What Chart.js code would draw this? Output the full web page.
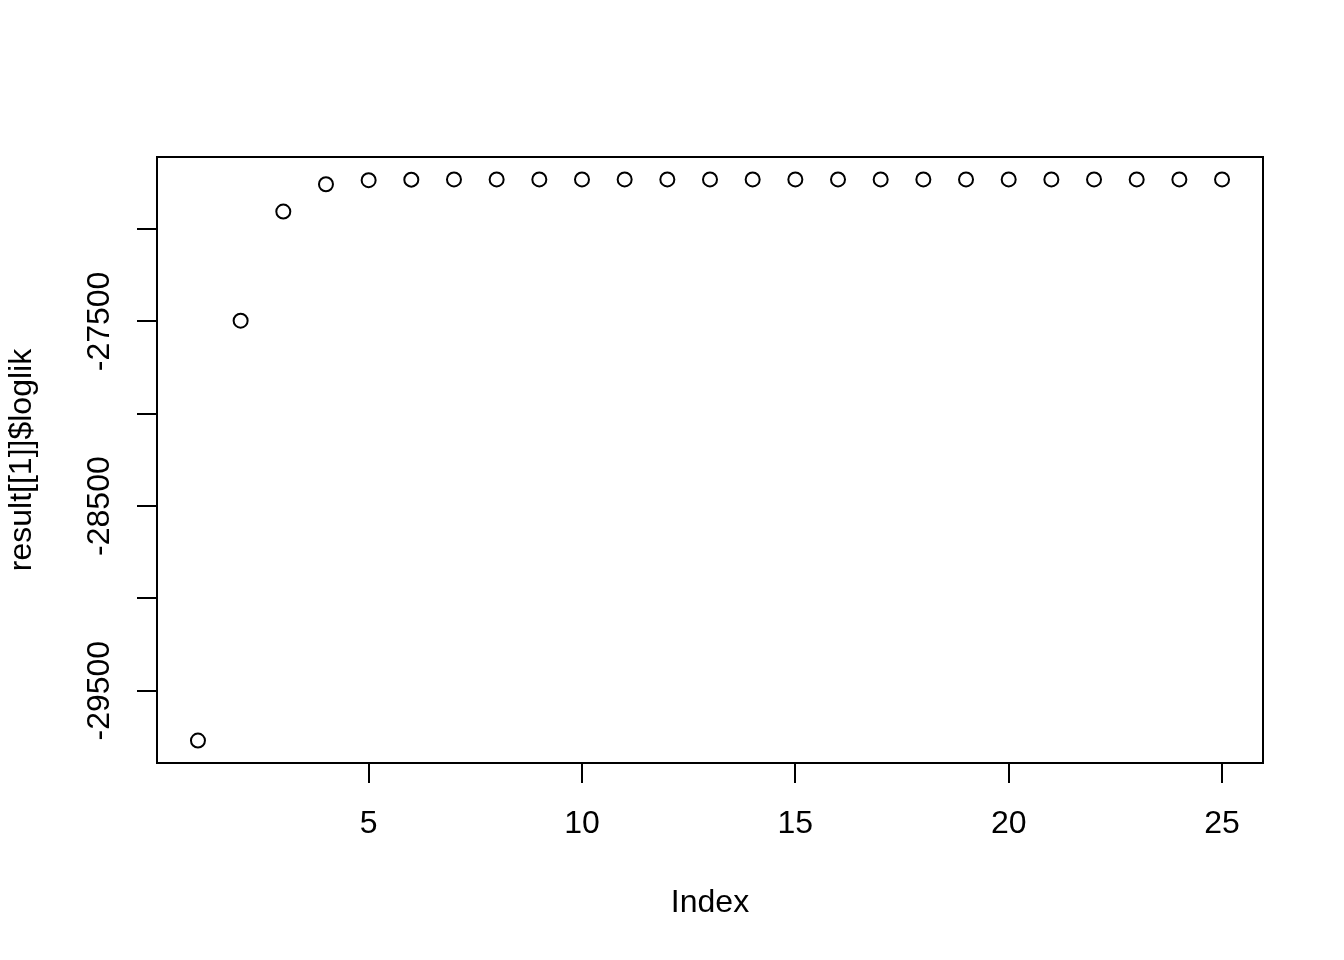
<!DOCTYPE html>
<html>
<head>
<meta charset="utf-8">
<script src="https://cdn.jsdelivr.net/npm/chart.js@4/dist/chart.umd.min.js"></script>
<style>
  html, body { margin: 0; padding: 0; background: #fff; }
  #wrap { width: 1344px; height: 960px; }
</style>
</head>
<body>
<div id="wrap"><canvas id="c" width="1344" height="960"></canvas></div>
<script>
// ── Data ──────────────────────────────────────────────────────────────────
const index = [1, 2, 3, 4, 5, 6, 7, 8, 9, 10, 11, 12, 13, 14, 15, 16, 17, 18, 19, 20, 21, 22, 23, 24, 25];
const loglik = [
  -29770, -27496, -26905, -26757, -26735,
  -26732, -26731, -26731, -26731, -26731,
  -26731, -26731, -26731, -26731, -26731,
  -26731, -26731, -26731, -26731, -26731,
  -26731, -26731, -26731, -26731, -26731
];

const xTicks = [5, 10, 15, 20, 25];
const yTicks = [-29500, -29000, -28500, -28000, -27500, -27000];
const yTickLabels = ["-29500", "", "-28500", "", "-27500", ""];

const xTitle = "Index";
const yTitle = "result[[1]]$loglik";

// R-style axis limits: data range padded by 4% on each side.
function rRange(vals) {
  const lo = Math.min(...vals), hi = Math.max(...vals);
  const pad = (hi - lo) * 0.04;
  return [lo - pad, hi + pad];
}
const [xMin, xMax] = rRange(index);
const [yMin, yMax] = rRange(loglik);

const FONT = "'Liberation Sans', Arial, Helvetica, sans-serif";

// Full box round the plot region, like R's box().
const plotBox = {
  id: "plotBox",
  afterDatasetsDraw(chart) {
    const { ctx, chartArea: a } = chart;
    ctx.save();
    ctx.strokeStyle = "#000";
    ctx.lineWidth = 2;
    ctx.strokeRect(a.left, a.top, a.right - a.left, a.bottom - a.top);
    ctx.restore();
  },
};

new Chart(document.getElementById("c"), {
  type: "scatter",
  data: {
    datasets: [{
      data: index.map((x, i) => ({ x: x, y: loglik[i] })),
      pointStyle: "circle",
      pointRadius: 7,
      pointHoverRadius: 7,
      pointBorderWidth: 2,
      pointBorderColor: "#000",
      pointBackgroundColor: "rgba(0,0,0,0)",
    }],
  },
  options: {
    responsive: false,
    animation: false,
    events: [],
    layout: { padding: { left: 0, top: 157, right: 81, bottom: 0 } },
    plugins: { legend: { display: false }, tooltip: { enabled: false } },
    scales: {
      x: {
        type: "linear",
        position: "bottom",
        min: xMin,
        max: xMax,
        afterBuildTicks: (s) => { s.ticks = xTicks.map((v) => ({ value: v })); },
        afterFit: (s) => { s.height = 197; },
        border: { display: false },
        grid: { drawOnChartArea: false, drawTicks: true, tickLength: 20, color: "#000", lineWidth: 2 },
        ticks: {
          autoSkip: false,
          maxRotation: 0,
          padding: 22,
          color: "#000",
          font: { family: FONT, size: 32 },
          callback: (v) => String(v),
        },
        title: {
          display: true,
          text: xTitle,
          color: "#000",
          font: { family: FONT, size: 32 },
          padding: { top: 0, bottom: 38 },
        },
      },
      y: {
        type: "linear",
        position: "left",
        min: yMin,
        max: yMax,
        afterBuildTicks: (s) => { s.ticks = yTicks.map((v) => ({ value: v })); },
        afterFit: (s) => { s.width = 157; },
        border: { display: false },
        grid: { drawOnChartArea: false, drawTicks: true, tickLength: 20, color: "#000", lineWidth: 2 },
        ticks: {
          autoSkip: false,
          minRotation: 90,
          maxRotation: 90,
          crossAlign: "center",
          padding: -13,
          color: "#000",
          font: { family: FONT, size: 32 },
          callback: (v) => yTickLabels[yTicks.indexOf(v)] ?? "",
        },
        title: {
          display: true,
          text: yTitle,
          color: "#000",
          font: { family: FONT, size: 32 },
          padding: { top: 3, bottom: 0 },
        },
      },
    },
  },
  plugins: [plotBox],
});
</script>
</body>
</html>
